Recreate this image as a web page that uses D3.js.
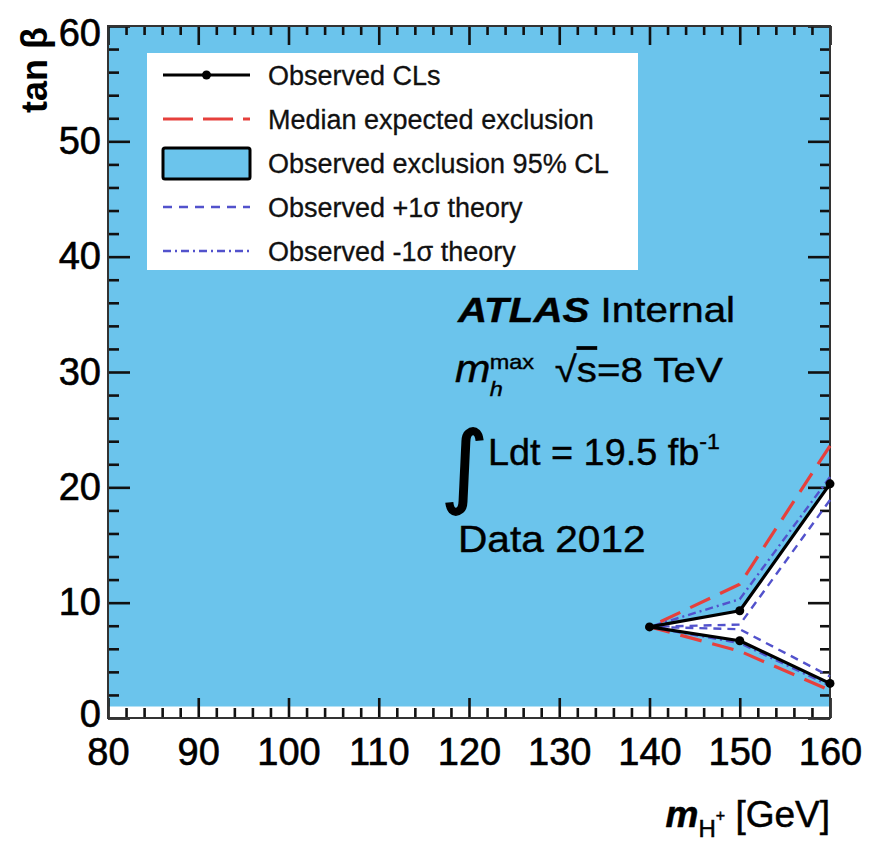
<!DOCTYPE html>
<html>
<head>
<meta charset="utf-8">
<script src="https://cdn.jsdelivr.net/npm/d3@7"></script>
<style>
  html, body { margin: 0; padding: 0; background: #fff; }
  svg { display: block; font-family: "Liberation Sans", Arial, Helvetica, sans-serif; }
</style>
</head>
<body>
<svg id="chart" width="869" height="841"></svg>
<script>
// Charged Higgs mass points scanned
const massPoints = [140, 150, 160];

// tan(beta) contour edges (upper and lower branch) at each mass point
const observedUpper  = [7.9, 9.3, 20.3];
const observedLower  = [7.9, 6.7, 3.0];
const expectedUpper  = [7.9, 11.6, 23.6];
const expectedLower  = [7.9, 5.8, 2.4];
const plusOneUpper   = [7.9, 8.1, 18.9];
const plusOneLower   = [7.9, 7.7, 3.6];
const minusOneUpper  = [7.9, 10.3, 20.9];
const minusOneLower  = [7.9, 6.5, 2.8];

// Scanned plane limits
const massRange = [80, 160];
const tanbRange = [0, 60];
const tanbScanMin = 1;

// Axis ticks
const xMajorTicks = [80, 90, 100, 110, 120, 130, 140, 150, 160];
const yMajorTicks = [0, 10, 20, 30, 40, 50, 60];
const minorStep = 2;

// Legend entries
const legendLabels = [
  "Observed CLs",
  "Median expected exclusion",
  "Observed exclusion 95% CL",
  "Observed +1\u03c3 theory",
  "Observed -1\u03c3 theory"
];

const BLUE_FILL = "#6bc4ec";
const RED = "#e6403c";
const SIGMA_BLUE = "#5252cc";

const svg = d3.select("#chart");
const x = d3.scaleLinear().domain(massRange).range([108, 830]);
const y = d3.scaleLinear().domain(tanbRange).range([718, 26]);

// Closed contour: upper branch from high mass down to 140, then lower branch back out
function contour(upper, lower) {
  const up = massPoints.map((m, i) => [m, upper[i]]).reverse();
  const lo = massPoints.map((m, i) => [m, lower[i]]).slice(1);
  return up.concat(lo);
}
const line = d3.line().x(d => x(d[0])).y(d => y(d[1]));

// Excluded region: whole scanned plane minus the allowed pocket
const obsContour = contour(observedUpper, observedLower);
const outer = [[massRange[0], tanbScanMin], [massRange[1], tanbScanMin],
               [massRange[1], tanbRange[1]], [massRange[0], tanbRange[1]]];
svg.append("path")
  .attr("d", line(outer) + "Z" + line(obsContour) + "Z")
  .attr("fill", BLUE_FILL)
  .attr("fill-rule", "evenodd");

// Axes: inward ticks on all four sides
function styleAxis(g) {
  g.select(".domain").remove();
  g.selectAll(".tick line").attr("stroke", "#111").attr("stroke-width", 2.6);
  g.selectAll(".tick text")
    .attr("fill", "#000")
    .attr("font-size", 38)
    .attr("font-family", "Liberation Sans, Arial, sans-serif")
    .attr("stroke", "#000").attr("stroke-width", 0.6);
}
const xMinor = d3.range(massRange[0], massRange[1] + 0.01, minorStep).filter(v => v % 10 !== 0);
const yMinor = d3.range(tanbRange[0], tanbRange[1] + 0.01, minorStep).filter(v => v % 10 !== 0);

// bottom
svg.append("g").attr("transform", `translate(0,${y(0)})`)
  .call(d3.axisBottom(x).tickValues(xMinor).tickSize(-10).tickFormat(""))
  .call(styleAxis);
svg.append("g").attr("transform", `translate(0,${y(0)})`)
  .call(d3.axisBottom(x).tickValues(xMajorTicks).tickSize(-20).tickPadding(20).tickFormat(d3.format("d")))
  .call(styleAxis);
// top
svg.append("g").attr("transform", `translate(0,${y(60)})`)
  .call(d3.axisTop(x).tickValues(xMinor).tickSize(-9).tickFormat(""))
  .call(styleAxis);
svg.append("g").attr("transform", `translate(0,${y(60)})`)
  .call(d3.axisTop(x).tickValues(xMajorTicks).tickSize(-19).tickFormat(""))
  .call(styleAxis);
// left
svg.append("g").attr("transform", `translate(${x(80)},0)`)
  .call(d3.axisLeft(y).tickValues(yMinor).tickSize(-11).tickFormat(""))
  .call(styleAxis);
const yAxisG = svg.append("g").attr("transform", `translate(${x(80)},0)`)
  .call(d3.axisLeft(y).tickValues(yMajorTicks).tickSize(-22).tickPadding(7).tickFormat(d3.format("d")))
  .call(styleAxis);
// keep the end labels clear of the frame corners
yAxisG.selectAll(".tick text").attr("dy", d => d === 60 ? "0.5em" : d === 0 ? "0.22em" : "0.32em");
// right
svg.append("g").attr("transform", `translate(${x(160)},0)`)
  .call(d3.axisRight(y).tickValues(yMinor).tickSize(-10).tickFormat(""))
  .call(styleAxis);
svg.append("g").attr("transform", `translate(${x(160)},0)`)
  .call(d3.axisRight(y).tickValues(yMajorTicks).tickSize(-22).tickFormat(""))
  .call(styleAxis);

// Frame
svg.append("rect")
  .attr("x", x(80)).attr("y", y(60))
  .attr("width", x(160) - x(80)).attr("height", y(0) - y(60))
  .attr("fill", "none").attr("stroke", "#333").attr("stroke-width", 2);

// Contour lines
svg.append("path").attr("d", line(contour(expectedUpper, expectedLower)))
  .attr("fill", "none").attr("stroke", RED).attr("stroke-width", 3.2)
  .attr("stroke-dasharray", "22,11");
svg.append("path").attr("d", line(contour(plusOneUpper, plusOneLower)))
  .attr("fill", "none").attr("stroke", SIGMA_BLUE).attr("stroke-width", 2.4)
  .attr("stroke-dasharray", "8,6");
svg.append("path").attr("d", line(contour(minusOneUpper, minusOneLower)))
  .attr("fill", "none").attr("stroke", SIGMA_BLUE).attr("stroke-width", 2.4)
  .attr("stroke-dasharray", "8,4,2,4");
svg.append("path").attr("d", line(obsContour))
  .attr("fill", "none").attr("stroke", "#000").attr("stroke-width", 3.2)
  .attr("stroke-linejoin", "round");
svg.append("g").selectAll("circle").data(obsContour).join("circle")
  .attr("cx", d => x(d[0])).attr("cy", d => y(d[1])).attr("r", 4.5)
  .attr("fill", "#000");

// Legend
const legend = svg.append("g");
legend.append("rect").attr("x", 147).attr("y", 53).attr("width", 491).attr("height", 217)
  .attr("fill", "#fff");
const rowY = i => 75 + i * 44;
const symX0 = 163, symX1 = 250;
legend.append("line").attr("x1", symX0).attr("x2", symX1).attr("y1", rowY(0)).attr("y2", rowY(0))
  .attr("stroke", "#000").attr("stroke-width", 3.2);
legend.append("circle").attr("cx", (symX0 + symX1) / 2).attr("cy", rowY(0)).attr("r", 4.5).attr("fill", "#000");
legend.append("line").attr("x1", symX0).attr("x2", symX1).attr("y1", rowY(1)).attr("y2", rowY(1))
  .attr("stroke", RED).attr("stroke-width", 3.2).attr("stroke-dasharray", "30,10");
legend.append("rect").attr("x", symX0).attr("y", rowY(2) - 15).attr("width", symX1 - symX0).attr("height", 31)
  .attr("rx", 2).attr("fill", BLUE_FILL).attr("stroke", "#000").attr("stroke-width", 3);
legend.append("line").attr("x1", symX0).attr("x2", symX1).attr("y1", rowY(3)).attr("y2", rowY(3))
  .attr("stroke", SIGMA_BLUE).attr("stroke-width", 2.4).attr("stroke-dasharray", "9,7");
legend.append("line").attr("x1", symX0).attr("x2", symX1).attr("y1", rowY(4)).attr("y2", rowY(4))
  .attr("stroke", SIGMA_BLUE).attr("stroke-width", 2.4).attr("stroke-dasharray", "8,4,2,4");
legend.selectAll("text.lbl").data(legendLabels).join("text").attr("class", "lbl")
  .attr("x", 268).attr("y", (d, i) => rowY(i) + 10)
  .attr("font-size", 27).attr("fill", "#111")
  .attr("stroke", "#111").attr("stroke-width", 0.3)
  .text(d => d);

// Experiment / dataset annotation
const info = svg.append("g").attr("stroke", "#000").attr("stroke-width", 0.4);
const l1 = info.append("g").attr("transform", "translate(458,322) scale(1.12,1)")
  .append("text").attr("font-size", 36).attr("fill", "#000");
l1.append("tspan").attr("font-weight", "bold").attr("font-style", "italic").text("ATLAS");
l1.append("tspan").text(" Internal");

const l2 = info.append("g").attr("transform", "translate(455,382) scale(1.12,1)");
l2.append("text").attr("font-size", 38).attr("font-style", "italic").text("m");
l2.append("text").attr("x", 31).attr("y", -13).attr("font-size", 21).text("max");
l2.append("text").attr("x", 31).attr("y", 14).attr("font-size", 21).attr("font-style", "italic").text("h");
const sq = l2.append("text").attr("x", 89).attr("font-size", 36);
sq.append("tspan").text("\u221a");
sq.append("tspan").attr("text-decoration", "overline").text("s");
sq.append("tspan").text("=8 TeV");

info.append("text").attr("x", 441).attr("y", 496).attr("font-size", 90)
  .attr("font-family", "DejaVu Sans").attr("stroke-width", 1.6).text("\u222b");
const l3 = info.append("g").attr("transform", "translate(488,465) scale(1.05,1)")
  .append("text").attr("font-size", 36);
l3.append("tspan").text("Ldt = 19.5 fb");
l3.append("tspan").attr("font-size", 22).attr("dy", -16).text("-1");

info.append("g").attr("transform", "translate(458,552) scale(1.13,1)")
  .append("text").attr("font-size", 36).text("Data 2012");

// Axis titles
svg.append("text").attr("transform", "translate(47,27) rotate(-90)")
  .attr("text-anchor", "end").attr("font-size", 36).attr("font-weight", "bold")
  .text("tan \u03b2");

const xt = svg.append("text").attr("x", 830).attr("y", 827).attr("text-anchor", "end")
  .attr("font-size", 37).attr("stroke", "#000").attr("stroke-width", 0.5);
xt.append("tspan").attr("font-weight", "bold").attr("font-style", "italic").text("m");
xt.append("tspan").attr("font-size", 24).attr("dy", 10).text("H");
xt.append("tspan").attr("font-size", 16).attr("dy", -16).text("+");
xt.append("tspan").attr("dy", 6).text(" [GeV]");
</script>
</body>
</html>
